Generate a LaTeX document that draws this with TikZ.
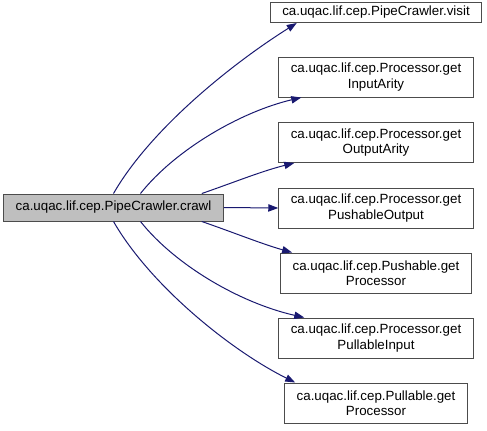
\documentclass[tikz,border=0pt]{standalone}
\usepackage{fontspec}
\setmainfont{Liberation Sans}
\usetikzlibrary{arrows.meta,calc}
\definecolor{edgeblue}{HTML}{191970}
\definecolor{rootgray}{HTML}{BFBFBF}

\begin{document}
\begin{tikzpicture}[x=0.75pt,y=-0.75pt,
    fn/.style={draw=black!70, line width=0.75pt, fill=white, align=center,
      inner xsep=9pt, inner ysep=1pt, minimum height=30pt,
      font=\fontsize{10}{11.5}\selectfont},
    fnone/.style={fn, minimum height=15pt},
    fnroot/.style={fn, fill=rootgray, minimum height=20.25pt},
    call/.style={draw=edgeblue, line width=0.75pt,
      -{Triangle[length=7.5pt, width=5.5pt]}}]
    \useasboundingbox (0,0) rectangle (487,430);

    \node [fnroot] (crawl) at (113.5,207.5) {ca.uqac.lif.cep.PipeCrawler.crawl};

    \node [fnone] (visit) at (376,12.5) {ca.uqac.lif.cep.PipeCrawler.visit};
    \node [fn] (inar) at (376,77) {ca.uqac.lif.cep.Processor.get\\InputArity};
    \node [fn] (outar) at (376,142.5) {ca.uqac.lif.cep.Processor.get\\OutputArity};
    \node [fn] (pushout) at (376,208) {ca.uqac.lif.cep.Processor.get\\PushableOutput};
    \node [fn] (pushproc) at (376,273) {ca.uqac.lif.cep.Pushable.get\\Processor};
    \node [fn] (pullin) at (376,338) {ca.uqac.lif.cep.Processor.get\\PullableInput};
    \node [fn] (pullproc) at (376,403) {ca.uqac.lif.cep.Pullable.get\\Processor};

    \draw [call] (crawl.north) .. controls (150,130) and (230,65) .. ($(visit.south west)+(27,0)$);
    \draw [call] ($(crawl.north)+(27,0)$) .. controls (175,150) and (240,112) .. ($(inar.south west)+(23,0)$);
    \draw [call] ($(crawl.north east)+(-22,0)$) .. controls (235,182) and (262,171) .. ($(outar.south west)+(16,0)$);
    \draw [call] (crawl.east) -- (pushout.west);
    \draw [call] ($(crawl.south east)+(-22,0)$) .. controls (235,233) and (262,244) .. ($(pushproc.north west)+(12,0)$);
    \draw [call] ($(crawl.south)+(27,0)$) .. controls (175,265) and (240,303) .. ($(pullin.north west)+(26,0)$);
    \draw [call] (crawl.south) .. controls (150,285) and (230,350) .. ($(pullproc.north west)+(11,0)$);
\end{tikzpicture}
\end{document}
